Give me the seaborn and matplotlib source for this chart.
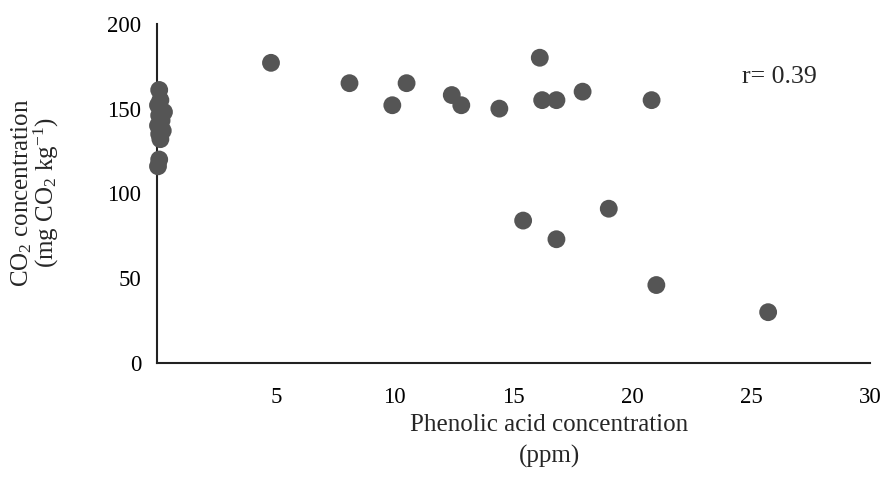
import pandas as pd
import seaborn as sns
import matplotlib.pyplot as plt

# phenolic acid (ppm) vs CO2 (mg CO2 kg-1)
phenolic = [0.10, 0.15, 0.05, 0.30, 0.10, 0.20, 0.05, 0.25, 0.10, 0.15, 0.10, 0.05,
            4.8, 8.1, 9.9, 10.5, 12.4, 12.8, 14.4,
            15.4, 16.1, 16.2, 16.8, 16.8, 17.9, 19.0, 20.8, 21.0, 25.7]
co2 = [161, 155, 152, 148, 146, 143, 140, 137, 135, 132, 120, 116,
       177, 165, 152, 165, 158, 152, 150,
       84, 180, 155, 155, 73, 160, 91, 155, 46, 30]

x_ticks = [5, 10, 15, 20, 25, 30]
y_ticks = [0, 50, 100, 150, 200]
r_text = "r= 0.39"

df = pd.DataFrame({"phenolic": phenolic, "co2": co2})

sns.set_style("white")
plt.rcParams["font.family"] = ["Liberation Serif", "DejaVu Serif"]
plt.rcParams["mathtext.fontset"] = "custom"
plt.rcParams["mathtext.rm"] = "Liberation Serif"
plt.rcParams["mathtext.it"] = "Liberation Serif:italic"

fig = plt.figure(figsize=(8.81, 4.96), dpi=100)
ax = fig.add_axes([0.178, 0.268, 0.81, 0.684])

sns.scatterplot(data=df, x="phenolic", y="co2", ax=ax, s=165,
                color="#555555", edgecolor="none", clip_on=False, zorder=3)

ax.set_xlim(0, 30)
ax.set_ylim(0, 200)
ax.set_xticks(x_ticks)
ax.set_yticks(y_ticks)
ax.set_xlabel("")
ax.set_ylabel("")

for side in ["top", "right"]:
    ax.spines[side].set_visible(False)
for side in ["left", "bottom"]:
    ax.spines[side].set_color("#222222")
    ax.spines[side].set_linewidth(1.5)

ax.tick_params(axis="both", direction="out", length=8, width=1.5,
               colors="#222222", labelsize=16.5, labelcolor="black")
ax.tick_params(axis="x", pad=9)
ax.tick_params(axis="y", pad=3)

ax.text(779 / 881, 1 - 77 / 496, r_text, transform=fig.transFigure, fontsize=18.5,
        ha="center", va="center")

fig.text(549 / 881, 1 - 425 / 496, "Phenolic acid concentration",
         fontsize=18, ha="center", va="center")
fig.text(549 / 881, 1 - 456 / 496, "(ppm)", fontsize=18, ha="center", va="center")

fig.text(22 / 881, 0.611, r"CO$_2$ concentration", fontsize=18,
         rotation=90, ha="center", va="center")
fig.text(46 / 881, 0.611, r"(mg CO$_2$ kg$^{\mathregular{-1}}$)", fontsize=18,
         rotation=90, ha="center", va="center")

fig.savefig("out.png", dpi=100)
plt.close(fig)
